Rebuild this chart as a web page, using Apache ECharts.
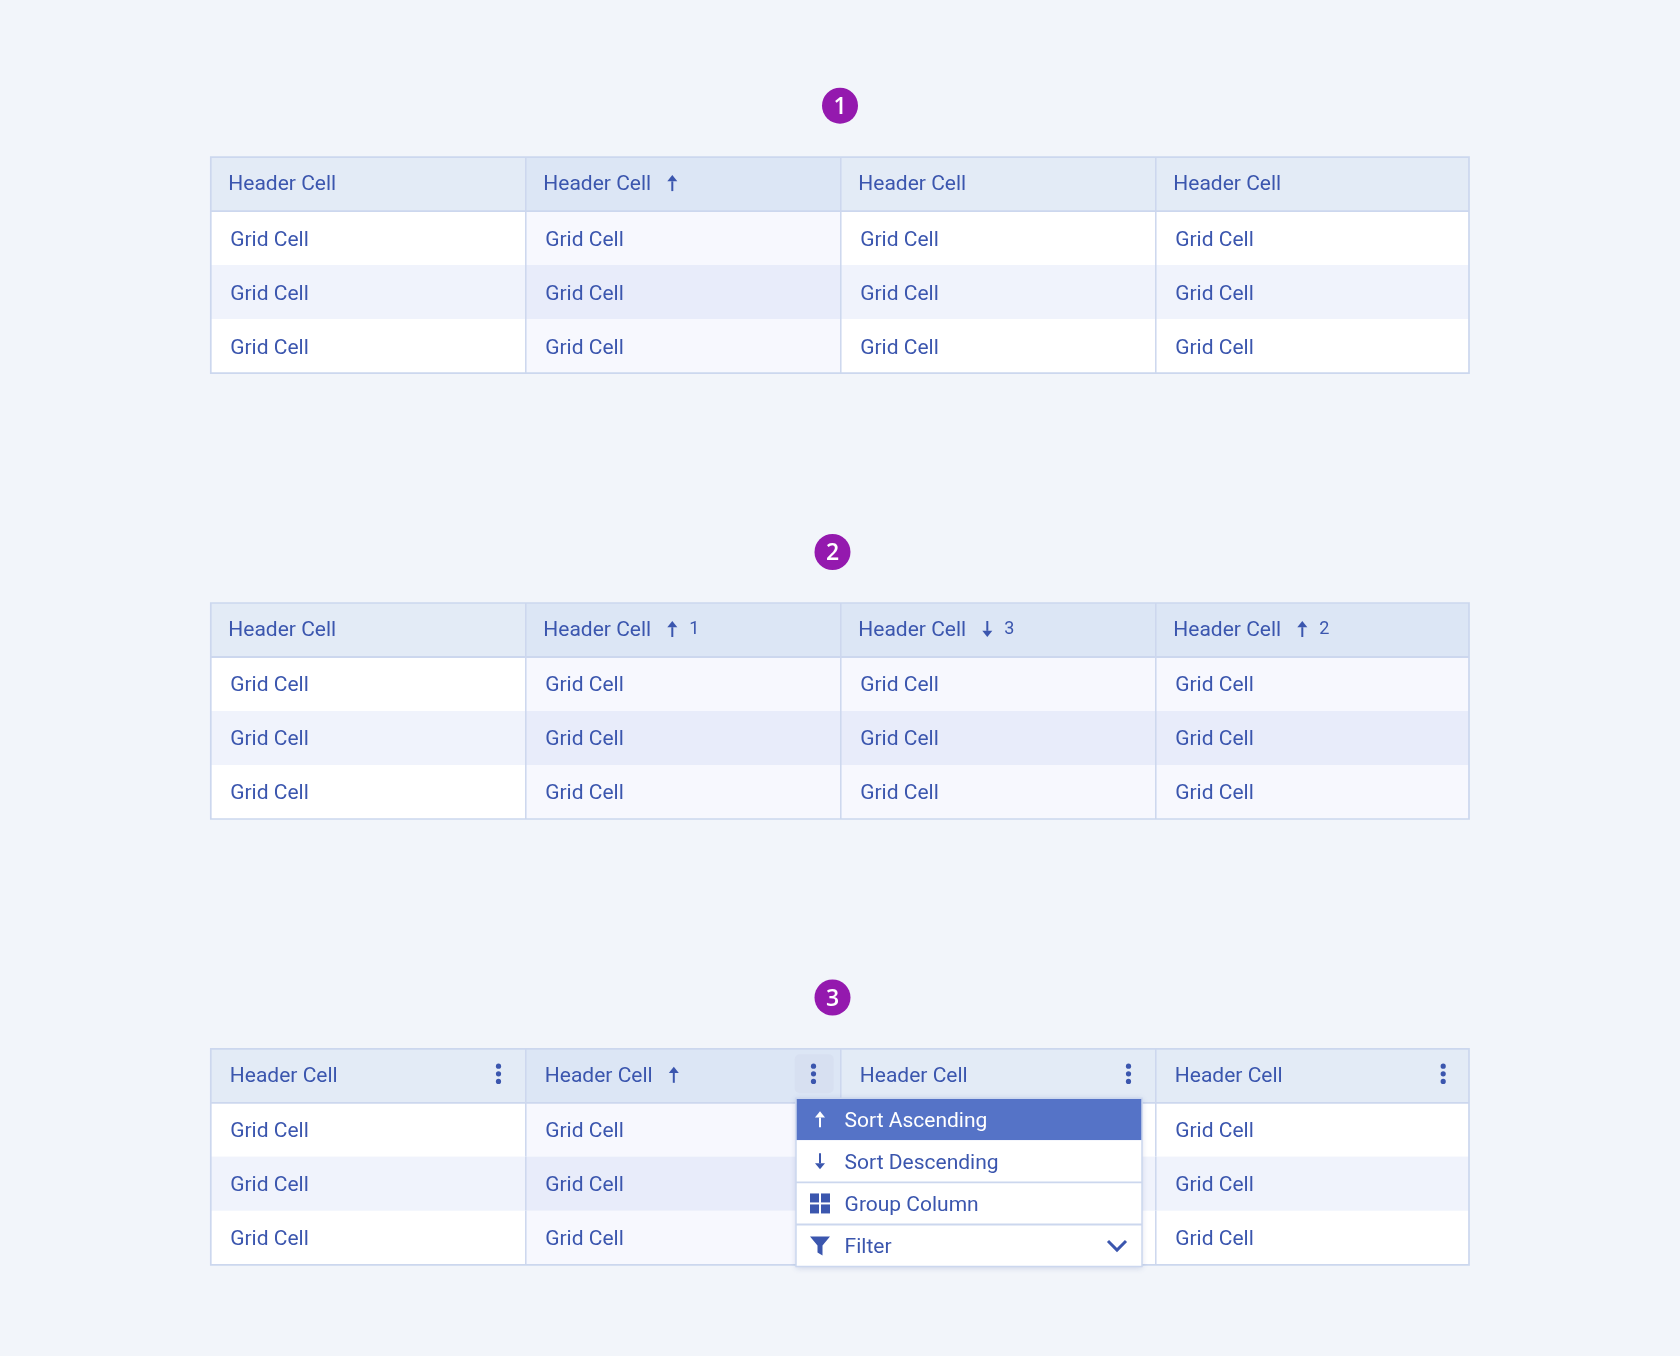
<!DOCTYPE html>
<html><head><meta charset="utf-8">
<style>html,body{margin:0;padding:0;background:#f2f5fa}#c{width:1680px;height:1356px}</style>
<script src="https://cdn.jsdelivr.net/npm/echarts@6/dist/echarts.min.js"></script>
</head><body><div id="c"></div>
<script>
// ---- data ----
const columnNames = ['Column 1', 'Column 2', 'Column 3', 'Column 4'];
const rowNames = ['Header', 'Row 1', 'Row 2', 'Row 3'];
const headerText = 'Header Cell';
const gridText = 'Grid Cell';
const table1Sort = ['', 'up', '', ''];
const table1Rank = ['', '', '', ''];
const table2Sort = ['', 'up', 'down', 'up'];
const table2Rank = ['', '1', '3', '2'];
const table3Sort = ['', 'up', '', ''];
const table3Rank = ['', '', '', ''];
const badgeLabels = ['1', '2', '3'];
const menuItems = ['Sort Ascending', 'Sort Descending', 'Group Column', 'Filter'];
const menuIcons = ['up', 'down', 'grid', 'funnel'];

// ---- style ----
const C = {
  bg: '#f2f5fa', line: '#ccd7ee', text: '#3b56ae', head: '#e3ebf6', headSort: '#dce6f5',
  rowA: '#ffffff', rowB: '#f0f3fc', rowASort: '#f7f8fe', rowBSort: '#e8ecfa',
  badge: '#9419ae', sel: '#5573c7', btn: '#d7e0f1'
};
const FONT = '"Roboto", sans-serif';
const tableBox = [
  { left: 210.8, top: 157.1, sort: table1Sort, rank: table1Rank, kebab: false, headPad: 17.5 },
  { left: 210.8, top: 603, sort: table2Sort, rank: table2Rank, kebab: false, headPad: 17.5 },
  { left: 210.8, top: 1048.8, sort: table3Sort, rank: table3Rank, kebab: true, headPad: 19 }
];
const W = 1260, H = 216, OVER = 1.8;

function arrow(x, cy, dir, color) {
  const s = dir === 'up' ? 1 : -1;
  const tip = cy - s * 8, base = cy - s * 1.8, end = cy + s * 8;
  return [
    { type: 'line', shape: { x1: x, y1: base, x2: x, y2: end }, style: { stroke: color, lineWidth: 2 } },
    { type: 'polygon', shape: { points: [[x, tip], [x - 5, base], [x + 5, base]] }, style: { fill: color } }
  ];
}
function txt(text, x, y, size, color, align) {
  return { type: 'text', style: { text, x, y, fill: color, font: size + 'px ' + FONT, textAlign: align || 'left', textVerticalAlign: 'middle' } };
}
function kebab(x, y) {
  return [-7.6, 0, 7.6].map(d => ({ type: 'circle', shape: { cx: x, cy: y + d, r: 2.6 }, style: { fill: C.text } }));
}

function tableRender(t) {
  return function (params, api) {
    const col = api.value(0), row = api.value(1);
    const c = api.coord([col, row]), s = api.size([1, 1]);
    const x0 = c[0] - s[0] / 2, y0 = c[1] - s[1] / 2;
    const cellW = col === 3 ? s[0] - OVER : s[0];
    const sorted = !!t.sort[col];
    let fill;
    if (row === 0) fill = sorted ? C.headSort : C.head;
    else if (row === 2) fill = sorted ? C.rowBSort : C.rowB;
    else fill = sorted ? C.rowASort : C.rowA;
    const kids = [{ type: 'rect', shape: { x: x0, y: y0, width: cellW, height: s[1] }, style: { fill } }];
    if (col > 0) kids.push({ type: 'line', shape: { x1: x0, y1: y0, x2: x0, y2: y0 + s[1] }, style: { stroke: C.line, lineWidth: 1.5 } });
    if (row === 1) kids.push({ type: 'line', shape: { x1: x0, y1: y0, x2: x0 + cellW, y2: y0 }, style: { stroke: C.line, lineWidth: 1.8 } });
    if (row === 0) {
      const tx = x0 + t.headPad;
      kids.push(txt(headerText, tx, c[1] + 0.5, 21, C.text));
      if (t.sort[col]) kids.push(...arrow(tx + 129, c[1] - 1, t.sort[col], C.text));
      if (t.rank[col]) kids.push(txt(t.rank[col], tx + 146, c[1] - 1, 18, C.text));
      if (t.kebab) {
        const kx = x0 + s[0] - 27.3 - (col === 3 ? 0.3 : 0);
        if (col === 1) kids.push({ type: 'rect', shape: { x: kx - 18.8, y: c[1] - 21.5, width: 39, height: 39, r: 5 }, style: { fill: C.btn } });
        kids.push(...kebab(kx, c[1] - 2));
      }
    } else {
      kids.push(txt(gridText, x0 + 19.4, c[1] + 2.2, 21, C.text));
    }
    if (col === 3 && row === 3) {
      const b = params.coordSys;
      kids.push({ type: 'rect', shape: { x: b.x, y: b.y, width: b.width - OVER, height: b.height }, style: { fill: 'none', stroke: C.line, lineWidth: 1.7 } });
    }
    return { type: 'group', children: kids };
  };
}

function menuRender(params, api) {
  const row = api.value(1);
  const c = api.coord([0, row]), s = api.size([1, 1]);
  const x0 = c[0] - s[0] / 2, y0 = c[1] - s[1] / 2, b = params.coordSys;
  const fg = row === 0 ? '#ffffff' : C.text;
  const kids = [];
  if (row === 0) kids.push({ type: 'rect', shape: { x: b.x, y: b.y, width: b.width, height: b.height }, style: { fill: '#fff', shadowBlur: 6, shadowColor: 'rgba(50,75,150,0.2)', shadowOffsetY: 1 } });
  kids.push({ type: 'rect', shape: { x: x0, y: y0, width: s[0], height: s[1] }, style: { fill: row === 0 ? C.sel : '#ffffff' } });
  if (row >= 2) kids.push({ type: 'line', shape: { x1: x0, y1: y0, x2: x0 + s[0], y2: y0 }, style: { stroke: C.line, lineWidth: 1.8 } });
  const ix = x0 + 24, cy = c[1];
  const icon = menuIcons[row];
  if (icon === 'up' || icon === 'down') kids.push(...arrow(ix, cy, icon, fg));
  if (icon === 'grid') {
    [[-10, -10], [1, -10], [-10, 1], [1, 1]].forEach(d => kids.push({ type: 'rect', shape: { x: ix + d[0], y: cy + d[1], width: 9, height: 9 }, style: { fill: fg } }));
  }
  if (icon === 'funnel') {
    kids.push({ type: 'polygon', shape: { points: [[ix - 10, cy - 9], [ix + 10, cy - 9], [ix + 2.5, cy], [ix + 2.5, cy + 10], [ix - 2.5, cy + 7], [ix - 2.5, cy]] }, style: { fill: fg } });
    const r = x0 + s[0] - 25;
    kids.push({ type: 'polyline', shape: { points: [[r - 9, cy - 4.5], [r, cy + 4.5], [r + 9, cy - 4.5]] }, style: { stroke: fg, fill: 'none', lineWidth: 3 } });
  }
  kids.push(txt(menuItems[row], x0 + 48.6, cy + 2.5, 21, fg));
  if (row === 3) kids.push({ type: 'rect', shape: { x: b.x, y: b.y, width: b.width, height: b.height }, style: { fill: 'none', stroke: C.line, lineWidth: 1.5 } });
  return { type: 'group', children: kids };
}

const grid = [], xAxis = [], yAxis = [], series = [];
tableBox.forEach((t, i) => {
  grid.push({ left: t.left, top: t.top, width: W, height: H, containLabel: false });
  xAxis.push({ type: 'category', gridIndex: i, data: columnNames, show: false });
  yAxis.push({ type: 'category', gridIndex: i, data: rowNames, inverse: true, show: false });
  const data = [];
  rowNames.forEach((_, r) => columnNames.forEach((_, k) => data.push([k, r])));
  series.push({ type: 'custom', xAxisIndex: i, yAxisIndex: i, data, encode: { x: 0, y: 1 }, renderItem: tableRender(t), clip: false, silent: true, z: 2, animation: false });
});
grid.push({ left: 796, top: 1098.2, width: 346, height: 168.4 });
xAxis.push({ type: 'category', gridIndex: 3, data: ['Menu'], show: false });
yAxis.push({ type: 'category', gridIndex: 3, data: menuItems, inverse: true, show: false });
series.push({ type: 'custom', xAxisIndex: 3, yAxisIndex: 3, data: menuItems.map((_, r) => [0, r]), encode: { x: 0, y: 1 }, renderItem: menuRender, clip: false, silent: true, z: 5, animation: false });

const badgeX = [840, 832.5, 832.5], badgeY = [105.7, 552, 997.5];
const graphic = [];
badgeLabels.forEach((b, i) => {
  graphic.push({ type: 'circle', shape: { cx: badgeX[i], cy: badgeY[i], r: 18 }, style: { fill: C.badge }, silent: true });
  graphic.push({ type: 'text', x: badgeX[i], y: badgeY[i] + 1.5, style: { text: b, fill: '#fff', font: '600 23px "Open Sans", sans-serif', textAlign: 'center', textVerticalAlign: 'middle' }, silent: true });
});

const chart = echarts.init(document.getElementById('c'));
chart.setOption({ animation: false, backgroundColor: C.bg, grid, xAxis, yAxis, series, graphic, tooltip: { show: false } });
</script></body></html>
